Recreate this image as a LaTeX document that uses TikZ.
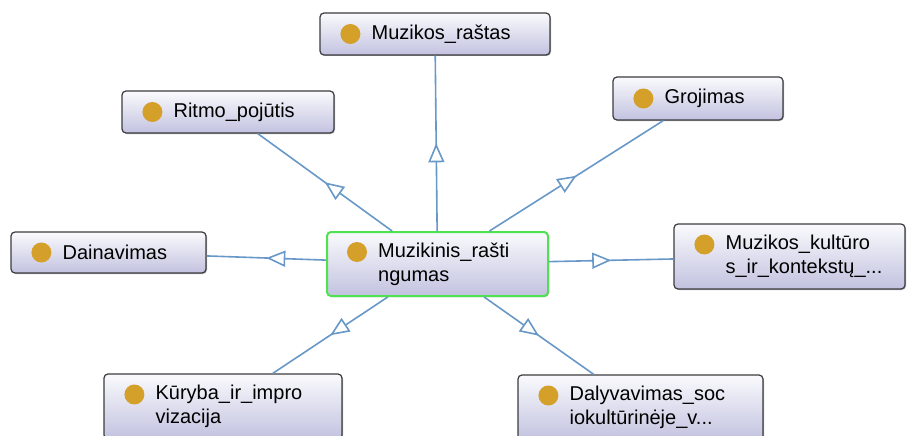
\documentclass[tikz,border=0pt]{standalone}
\usepackage{fontspec}
\setmainfont{Liberation Sans}
\usepackage{tikz}
\usetikzlibrary{positioning,calc,arrows.meta,decorations.markings,shadows}
\definecolor{edgeblue}{RGB}{104,152,200}
\definecolor{dotgold}{RGB}{212,160,42}
\definecolor{boxtop}{RGB}{250,250,253}
\definecolor{boxbottom}{RGB}{194,194,224}
\definecolor{boxline}{RGB}{60,60,64}
\definecolor{selgreen}{RGB}{80,225,80}
\tikzset{
  concept/.style={draw=boxline, line width=1.2pt, rounded corners=4pt, top color=boxtop, bottom color=boxbottom, inner sep=0pt,
    drop shadow={shadow xshift=1pt, shadow yshift=-1pt, fill=black, opacity=0.3}},
  selected/.style={concept, draw=selgreen, line width=2pt},
  dot/.style={circle, fill=dotgold, minimum size=20pt, inner sep=0pt},
  lbl/.style={anchor=west, align=left, inner sep=0pt, font=\fontsize{20}{24}\selectfont},
  edge/.style={draw=edgeblue, line width=1.6pt, postaction={decorate},
    decoration={markings, mark=at position 0.5 with {\arrow{Triangle[open, fill=white, color=edgeblue, line width=1.6pt, length=19pt, width=16pt]}}}}
}

\begin{document}
\begin{tikzpicture}[x=1pt, y=-1pt]
  \useasboundingbox (0,0) rectangle (911,436);

  % concepts
  \node[selected, minimum width=221pt, minimum height=64pt] (centras) at (437.5,264) {};
  \node[concept, minimum width=230pt, minimum height=42pt] (rastas) at (435,34) {};
  \node[concept, minimum width=212pt, minimum height=42pt] (ritmas) at (228,112) {};
  \node[concept, minimum width=170pt, minimum height=43pt] (grojimas) at (698,98.5) {};
  \node[concept, minimum width=195pt, minimum height=41pt] (dainavimas) at (108.5,252.5) {};
  \node[concept, minimum width=231pt, minimum height=65pt] (kultura) at (789.5,256.5) {};
  \node[concept, minimum width=238pt, minimum height=65pt] (kuryba) at (223,406.5) {};
  \node[concept, minimum width=245pt, minimum height=65pt] (dalyvavimas) at (640.5,407.5) {};

  % dots and labels
  \node[dot] (centras-dot) at ([xshift=31pt,yshift=12pt]centras.west) {};
  \node[lbl] (centras-lbl) at ([xshift=52pt]centras.west) {Muzikinis\_rašti\\ngumas};
  \node[dot] (rastas-dot) at ([xshift=31pt]rastas.west) {};
  \node[lbl] (rastas-lbl) at ([xshift=52pt]rastas.west) {Muzikos\_raštas};
  \node[dot] (ritmas-dot) at ([xshift=31pt]ritmas.west) {};
  \node[lbl] (ritmas-lbl) at ([xshift=52pt]ritmas.west) {Ritmo\_pojūtis};
  \node[dot] (grojimas-dot) at ([xshift=31pt]grojimas.west) {};
  \node[lbl] (grojimas-lbl) at ([xshift=52pt]grojimas.west) {Grojimas};
  \node[dot] (dainavimas-dot) at ([xshift=31pt]dainavimas.west) {};
  \node[lbl] (dainavimas-lbl) at ([xshift=52pt]dainavimas.west) {Dainavimas};
  \node[dot] (kultura-dot) at ([xshift=31pt,yshift=12pt]kultura.west) {};
  \node[lbl] (kultura-lbl) at ([xshift=52pt]kultura.west) {Muzikos\_kultūro\\s\_ir\_kontekstų\_...};
  \node[dot] (kuryba-dot) at ([xshift=31pt,yshift=12pt]kuryba.west) {};
  \node[lbl] (kuryba-lbl) at ([xshift=52pt]kuryba.west) {Kūryba\_ir\_impro\\vizacija};
  \node[dot] (dalyvavimas-dot) at ([xshift=31pt,yshift=12pt]dalyvavimas.west) {};
  \node[lbl] (dalyvavimas-lbl) at ([xshift=52pt]dalyvavimas.west) {Dalyvavimas\_soc\\iokultūrinėje\_v...};

  % edges
  \draw[edge] (centras) -- (rastas);
  \draw[edge] (centras) -- (ritmas);
  \draw[edge] (centras) -- (grojimas);
  \draw[edge] (centras) -- (dainavimas);
  \draw[edge] (centras) -- (kultura);
  \draw[edge] (centras) -- (kuryba);
  \draw[edge] (centras) -- (dalyvavimas);
\end{tikzpicture}
\end{document}
